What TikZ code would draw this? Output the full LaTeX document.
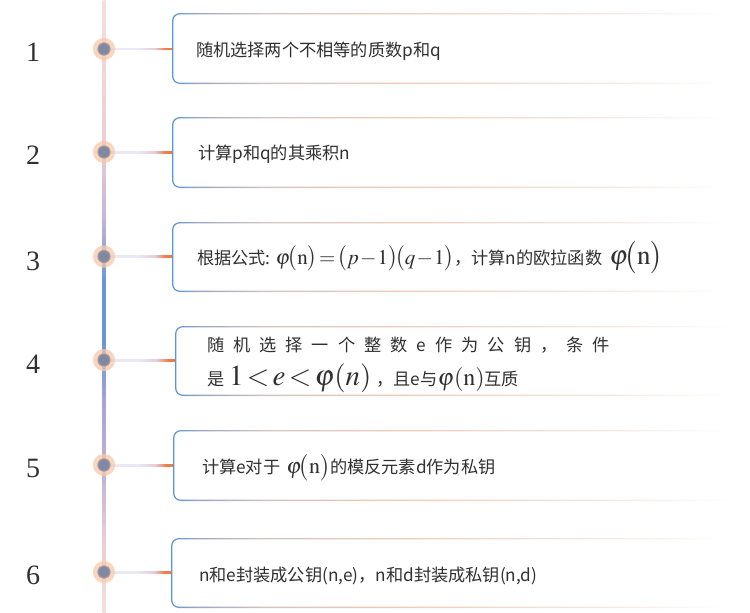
\documentclass[tikz,border=0pt]{standalone}
\usepackage{amsmath}
\usepackage{mathptmx}
\usepackage[no-math]{fontspec}
\setmainfont{Noto Sans CJK SC}
\newfontfamily\numfont{Liberation Serif}
\usetikzlibrary{calc}
\definecolor{bblue}{RGB}{88,150,218}
\definecolor{bgray}{RGB}{150,165,195}
\definecolor{btan}{RGB}{215,195,190}
\definecolor{borange}{RGB}{238,205,185}
\definecolor{bpale}{RGB}{246,232,225}
\definecolor{spk}{RGB}{246,222,220}
\definecolor{spk2}{RGB}{236,205,210}
\definecolor{slav}{RGB}{195,180,215}
\definecolor{sblue}{RGB}{105,150,212}
\definecolor{slav2}{RGB}{170,165,215}
\definecolor{clav}{RGB}{234,232,246}
\definecolor{cpink}{RGB}{228,205,222}
\definecolor{corange}{RGB}{240,125,70}
\definecolor{halo}{RGB}{247,200,168}
\definecolor{dotin}{RGB}{128,137,163}
\definecolor{dotring}{RGB}{165,150,160}
\definecolor{txtc}{RGB}{48,48,48}
\pgfdeclarehorizontalshading{boxborder}{100bp}{color(0bp)=(bblue); color(25bp)=(bblue); color(27bp)=(bgray); color(33bp)=(btan); color(45bp)=(borange); color(62bp)=(bpale); color(72bp)=(white); color(100bp)=(white)}
\pgfdeclareverticalshading{spine}{100bp}{color(0bp)=(spk); color(25bp)=(spk); color(31bp)=(spk2); color(36bp)=(slav); color(42bp)=(slav2); color(47bp)=(sblue); color(52bp)=(sblue); color(57bp)=(slav); color(63bp)=(spk2); color(75bp)=(spk); color(100bp)=(spk)}
\pgfdeclarehorizontalshading{conn}{100bp}{color(0bp)=(clav); color(25bp)=(clav); color(50bp)=(clav); color(62bp)=(cpink); color(70bp)=(corange); color(100bp)=(corange)}
\pgfdeclarelayer{bg}
\pgfsetlayers{bg,main}
\newcommand\rsabox[1]{%
  \shade[shading=boxborder, rounded corners=8] (#1.north west) rectangle (#1.south east);
  \fill[white, rounded corners=7] ([shift={(1.3,1.3)}]#1.north west) rectangle ([shift={(-1.3,-1.3)}]#1.south east);}
\newcommand\rsaconn[2]{%
  \begin{pgfonlayer}{bg}
  \shade[shading=conn] ($(#1.center)+(0,-0.6)$) rectangle ($(#2.west)+(0,0.6)$);
  \end{pgfonlayer}}
\newcommand\phisz[1]{{\fontsize{#1}{#1}\selectfont$\varphi\!\bigl(\mathrm{n}\bigr)$}}
\newcommand\phiplain[1]{{\fontsize{#1}{#1}\selectfont$\varphi\!\left(\mathrm{n}\right)$}}
\begin{document}
\begin{tikzpicture}[x=1pt,y=-1pt,
  every node/.style={inner sep=0pt, outer sep=0pt},
  boxn/.style={rectangle, anchor=north west, minimum width=590, minimum height=71},
  dot/.style={circle, minimum size=12, fill=dotin, draw=dotring, line width=1.2,
     preaction={draw=halo, line width=10, opacity=0.75}},
  num/.style={font=\numfont\fontsize{28}{28}\selectfont, text=txtc},
  txt/.style={anchor=base west, font=\fontsize{17.2}{20}\selectfont, text=txtc},
]
\useasboundingbox (0,0) rectangle (750,613);
\begin{pgfonlayer}{bg}
\shade[shading=spine] (102.5,0) rectangle (105.5,613);
\end{pgfonlayer}

% boxes
\node[boxn, minimum height=71] (b1) at (172,13) {};
\node[boxn, minimum height=71] (b2) at (172,117) {};
\node[boxn, minimum height=70] (b3) at (172,222) {};
\node[boxn, minimum height=70] (b4) at (175,326) {};
\node[boxn, minimum height=71] (b5) at (173,430) {};
\node[boxn, minimum height=70] (b6) at (171,538) {};
\rsabox{b1}\rsabox{b2}\rsabox{b3}\rsabox{b4}\rsabox{b5}\rsabox{b6}

% dots
\node[dot] (d1) at (104,49) {};
\node[dot] (d2) at (104,152) {};
\node[dot] (d3) at (104,256.5) {};
\node[dot] (d4) at (104,360) {};
\node[dot] (d5) at (104,465) {};
\node[dot] (d6) at (104,572) {};
\rsaconn{d1}{b1}\rsaconn{d2}{b2}\rsaconn{d3}{b3}\rsaconn{d4}{b4}\rsaconn{d5}{b5}\rsaconn{d6}{b6}

% numbers
\node[num] (n1) at (33,52.5) {1};
\node[num] (n2) at (33,155.5) {2};
\node[num] (n3) at (33,261) {3};
\node[num] (n4) at (33,364.5) {4};
\node[num] (n5) at (33,468.5) {5};
\node[num] (n6) at (33,575.5) {6};

% texts
\node[txt] (t1) at (196,56) {随机选择两个不相等的质数p和q};
\node[txt] (t2) at (198,159.5) {计算p和q的其乘积n};
\node[txt] (t3) at (197,264) {根据公式:\hspace{5pt}{\fontsize{21}{21}\selectfont\thickmuskip=1.5mu\medmuskip=1mu$\varphi\!\bigl(\mathrm{n}\bigr)=\bigl(p-1\bigr)\!\bigl(q-1\bigr)$}，计算n的欧拉函数\hspace{7pt}\phisz{27}};
\node[txt] (t4a) at (207,351) {\hbox to 403pt{随\hfill 机\hfill 选\hfill 择\hfill 一\hfill 个\hfill 整\hfill 数\hfill e\hfill 作\hfill 为\hfill 公\hfill 钥\hfill ，\hfill 条\hfill 件}};
\node[txt] (t4b) at (207,385) {是\hspace{5pt}{\fontsize{29}{29}\selectfont\thickmuskip=2mu$1<e<\varphi\!\left(n\right)$}\hspace{5pt}，且e与\phiplain{24}互质};
\node[txt] (t5) at (202,473.5) {计算e对于\hspace{6pt}\phisz{22}的模反元素d作为私钥};
\node[txt] (t6) at (199,581) {n和e封装成公钥(n,e)，n和d封装成私钥(n,d)};
\end{tikzpicture}
\end{document}
